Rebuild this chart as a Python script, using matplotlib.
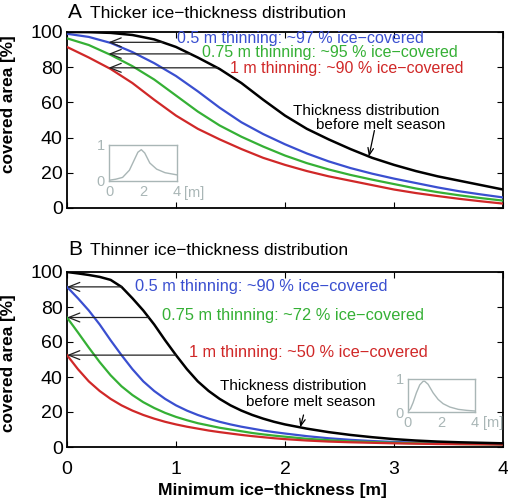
import numpy as np
import matplotlib
matplotlib.use("Agg")
import matplotlib.pyplot as plt

plt.rcParams['font.family'] = ['Liberation Sans', 'DejaVu Sans']

# ---------------- data ----------------
xA = [0.0, 0.2, 0.4, 0.6, 0.8, 1.0, 1.2, 1.4, 1.6, 1.8, 2.0, 2.2, 2.4, 2.6, 2.8,
      3.0, 3.2, 3.4, 3.6, 3.8, 4.0]
blackA = [100, 99.9, 99.5, 98.3, 95.8, 91.5, 85.5, 79, 71, 61.5, 52.5, 45, 39,
          33.5, 28.5, 24.5, 21, 18, 15.5, 13, 10.5]
blueA = [99.0, 97.2, 93.8, 88.6, 82.3, 75, 66.3, 57, 48.7, 42, 36.2, 31, 26.5,
         22.7, 19.5, 16.7, 14.2, 11.7, 9.5, 7.7, 6.0]
greenA = [96.4, 92.6, 87, 80.6, 73, 63.9, 54.8, 46.9, 40.5, 34.9, 29.8, 25.5,
          21.9, 18.8, 16.1, 13.6, 11.1, 9.0, 7.2, 5.6, 4.2]
redA = [91.5, 85.5, 79, 71, 61.5, 52.5, 45, 39, 33.5, 28.5, 24.5, 21, 18, 15.5,
        13, 10.5, 8.5, 6.8, 5.2, 3.8, 2.5]

xB = [0.0, 0.1, 0.2, 0.3, 0.4, 0.5, 0.6, 0.7, 0.8, 0.9, 1.0, 1.1, 1.2, 1.3, 1.4,
      1.5, 1.6, 1.7, 1.8, 1.9, 2.0, 2.2, 2.4, 2.6, 2.8, 3.0, 3.2, 3.4, 3.6, 3.8, 4.0]
blackB = [100, 99.2, 98.3, 97.2, 95.5, 91.5, 85, 78, 70, 61, 52.5, 44.5, 37.5,
          32, 27.5, 23.8, 20.8, 18.3, 16.2, 14.4, 12.9, 10.5, 8.5, 6.9, 5.6, 4.5,
          3.7, 3.1, 2.7, 2.4, 2.1]
blueB = [91.5, 85, 78, 70, 61, 52.5, 44.5, 37.5, 32, 27.5, 23.8, 20.8, 18.3,
         16.2, 14.4, 12.9, 11.6, 10.5, 9.4, 8.5, 7.7, 6.2, 5.0, 4.1, 3.4, 2.9,
         2.5, 2.2, 2.0, 1.8, 1.6]
greenB = [74, 65.5, 56.8, 48.5, 41, 34.7, 29.7, 25.6, 22.3, 19.5, 17.2, 15.3,
          13.6, 12.3, 11.0, 10.0, 9.0, 8.0, 7.2, 6.5, 5.9, 4.7, 3.9, 3.2, 2.8,
          2.4, 2.1, 1.9, 1.7, 1.6, 1.5]
redB = [52.5, 44.5, 37.5, 32, 27.5, 23.8, 20.8, 18.3, 16.2, 14.4, 12.9, 11.6,
        10.5, 9.4, 8.5, 7.7, 6.9, 6.2, 5.6, 5.0, 4.5, 3.7, 3.1, 2.7, 2.4, 2.1,
        1.9, 1.7, 1.6, 1.5, 1.4]

thinning = [0.5, 0.75, 1.0]
labelsA = ["0.5 m thinning: ~97 % ice\u2212covered",
           "0.75 m thinning: ~95 % ice\u2212covered",
           "1 m thinning: ~90 % ice\u2212covered"]
labelsB = ["0.5 m thinning: ~90 % ice\u2212covered",
           "0.75 m thinning: ~72 % ice\u2212covered",
           "1 m thinning: ~50 % ice\u2212covered"]

# insets (normalised thickness distributions)
inA_x = [0, 0.4, 0.8, 1.2, 1.5, 1.7, 1.9, 2.1, 2.4, 2.8, 3.3, 4.0]
inA_y = [0.02, 0.05, 0.10, 0.30, 0.60, 0.80, 0.87, 0.78, 0.50, 0.33, 0.23, 0.17]
inB_x = [0, 0.15, 0.3, 0.5, 0.7, 0.9, 1.0, 1.2, 1.5, 1.8, 2.1, 2.5, 3.0, 3.5, 4.0]
inB_y = [0.02, 0.10, 0.28, 0.58, 0.82, 0.93, 0.93, 0.84, 0.58, 0.38, 0.25, 0.15,
         0.08, 0.05, 0.03]

title_A = "Thicker ice\u2212thickness distribution"
title_B = "Thinner ice\u2212thickness distribution"
ylabel = "covered area [%]"
xlabel = "Minimum ice\u2212thickness [m]"
yticks = [0, 20, 40, 60, 80, 100]
xticks = [0, 1, 2, 3, 4]

# ---------------- style ----------------
C_BLACK = 'black'
C_BLUE = '#3a4fd0'
C_GREEN = '#35b035'
C_RED = '#d02828'
C_INSET = '#a9b6b6'
colors = [C_BLUE, C_GREEN, C_RED]

W, H = 508, 501
fig = plt.figure(figsize=(W / 100, H / 100), dpi=100)


def px_axes(l, t, r, b):
    return fig.add_axes([l / W, 1 - b / H, (r - l) / W, (b - t) / H])


axA = px_axes(67, 32, 503, 208)
axB = px_axes(67, 272, 503, 447)

for ax in (axA, axB):
    ax.set_xlim(0, 4)
    ax.set_ylim(0, 100)
    ax.set_xticks(xticks)
    ax.set_yticks(yticks)
    ax.tick_params(direction='in', length=4, width=0.8, top=True, right=True,
                   labelsize=14, pad=3)
    ax.tick_params(axis='x', pad=10)
    for s in ax.spines.values():
        s.set_linewidth(1.3)

axA.set_xticklabels([])
axB.set_xticklabels([str(t) for t in xticks])

LW = 1.6
axA.plot(xA, blackA, color=C_BLACK, lw=LW + 0.2, zorder=4)
axA.plot(xA, blueA, color=C_BLUE, lw=LW, zorder=3)
axA.plot(xA, greenA, color=C_GREEN, lw=LW, zorder=3)
axA.plot(xA, redA, color=C_RED, lw=LW, zorder=3)

axB.plot(xB, blackB, color=C_BLACK, lw=LW + 0.2, zorder=4)
axB.plot(xB, blueB, color=C_BLUE, lw=LW, zorder=3)
axB.plot(xB, greenB, color=C_GREEN, lw=LW, zorder=3)
axB.plot(xB, redB, color=C_RED, lw=LW, zorder=3)

arrow_style = dict(arrowstyle='->,head_length=0.8,head_width=0.32',
                   color='#222222', lw=0.9, shrinkA=0, shrinkB=0)

# Panel A arrows: horizontal shift by thinning, tips near x=0.38
tipA = 0.38
for th, ys, col, lab, (tx, ty) in zip(thinning, [blueA, greenA, redA], colors, labelsA,
                                      [(1.01, 96.4), (1.24, 88.3), (1.50, 79.4)]):
    lev = float(np.interp(tipA, xA, ys))
    axA.annotate('', xy=(tipA, lev), xytext=(tipA + th, lev), arrowprops=arrow_style,
                 zorder=5)
    axA.text(tx, ty, lab, color=col, fontsize=11.5, ha='left', va='center', zorder=6)

# Panel B arrows: from black curve at x=thinning to y axis
for th, ys, col, lab, (tx, ty) in zip(thinning, [blueB, greenB, redB], colors, labelsB,
                                      [(0.62, 92.0), (0.87, 75.4), (1.12, 53.9)]):
    lev = ys[0]
    axB.annotate('', xy=(0.0, lev), xytext=(th, lev), arrowprops=arrow_style,
                 zorder=5)
    axB.text(tx, ty, lab, color=col, fontsize=11.8, ha='left', va='center', zorder=6)

# "Thickness distribution" annotations
small_arrow = dict(arrowstyle='->,head_length=0.5,head_width=0.2', color='black',
                   lw=0.9, shrinkA=0, shrinkB=0)
axA.text(3.42, 54.9, "Thickness distribution", fontsize=11, ha='right', va='center')
axA.text(3.47, 46.9, "before melt season", fontsize=11, ha='right', va='center')
axA.annotate('', xy=(2.77, float(np.interp(2.77, xA, blackA))), xytext=(2.82, 44.0),
             arrowprops=small_arrow)

axB.text(2.75, 35.0, "Thickness distribution", fontsize=11, ha='right', va='center')
axB.text(2.83, 25.9, "before melt season", fontsize=11, ha='right', va='center')
axB.annotate('', xy=(2.14, float(np.interp(2.14, xB, blackB))), xytext=(2.17, 18.3),
             arrowprops=small_arrow)

# titles
fig.text(68 / W, 1 - 18 / H, "A", fontsize=15, ha='left', va='baseline')
fig.text(90 / W, 1 - 18 / H, title_A, fontsize=12.5, ha='left', va='baseline')
fig.text(68 / W, 1 - 255 / H, "B", fontsize=15, ha='left', va='baseline')
fig.text(90 / W, 1 - 255 / H, title_B, fontsize=12.5, ha='left', va='baseline')

# axis labels
fig.text(9 / W, 1 - 104 / H, ylabel, rotation=90, fontsize=12.4, fontweight='bold',
         ha='center', va='center')
fig.text(9 / W, 1 - 363 / H, ylabel, rotation=90, fontsize=12.4, fontweight='bold',
         ha='center', va='center')
fig.text(272 / W, 1 - 490 / H, xlabel, fontsize=12.6, fontweight='bold',
         ha='center', va='center')


# insets
def inset(l, t, r, b, xs, ys, mx):
    ax = px_axes(l, t, r, b)
    ax.plot(xs, ys, color=C_INSET, lw=1.0)
    ax.set_xlim(0, 4)
    ax.set_ylim(0, 1)
    ax.set_xticks([0, 2, 4])
    ax.set_yticks([0, 1])
    ax.set_xticklabels(['0', '2', '4'])
    ax.set_yticklabels(['0', '1'])
    ax.tick_params(length=0, labelsize=10.5, labelcolor=C_INSET, pad=3)
    for s in ax.spines.values():
        s.set_color(C_INSET)
        s.set_linewidth(1.0)
    ax.patch.set_alpha(0)
    ax.text(mx, -0.33, "[m]", transform=ax.transAxes, color=C_INSET, fontsize=10.5,
            ha='left', va='center')
    return ax


inset(109, 145, 177, 181, inA_x, inA_y, 1.10)
inset(408, 379, 475, 412, inB_x, inB_y, 1.12)

fig.savefig("out.png", dpi=100)
